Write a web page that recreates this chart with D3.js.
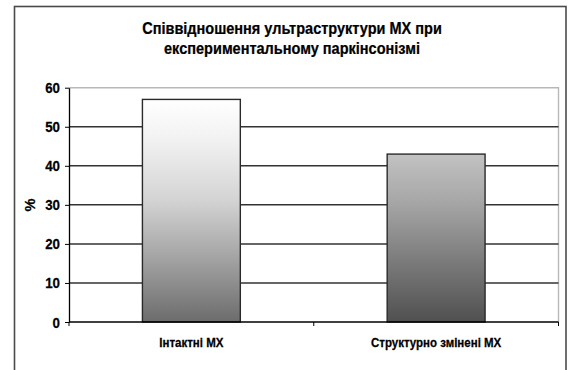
<!DOCTYPE html>
<html>
<head>
<meta charset="utf-8">
<script src="https://cdn.jsdelivr.net/npm/d3@7"></script>
<style>
  html, body { margin: 0; padding: 0; background: #fff; }
  svg { display: block; }
  text { font-family: "Liberation Sans", Arial, sans-serif; font-weight: bold; fill: #000; stroke: #000; stroke-width: 0.25px; }
</style>
</head>
<body>
<svg id="chart" width="571" height="370"></svg>
<script>
// Share of mitochondria by ultrastructure state, %
const categories = ["Інтактні МХ", "Структурно змінені МХ"];
const values = [57, 43];
const yTicks = [0, 10, 20, 30, 40, 50, 60];
const titleLines = ["Співвідношення ультраструктури МХ при", "експериментальному паркінсонізмі"];
const yLabel = "%";

const svg = d3.select("#chart");
const plot = { left: 69, top: 87.7, right: 558.5, bottom: 322 };

// condensed lettering: squeeze text horizontally around its anchor
function condensed(sel, x, y, sx) {
  sel.attr("transform", (d, i) => {
    const xx = typeof x === "function" ? x(d, i) : x;
    const yy = typeof y === "function" ? y(d, i) : y;
    return `translate(${xx},${yy}) scale(${sx},1)`;
  });
}

// outer chart frame (bottom edge runs past the page)
svg.append("rect")
  .attr("x", 14.5).attr("y", 6.5)
  .attr("width", 551.5).attr("height", 400)
  .attr("fill", "#fff").attr("stroke", "#4a4a4a").attr("stroke-width", 1.6);

const x = d3.scaleBand().domain(categories)
  .range([plot.left, plot.right]).paddingInner(0.6).paddingOuter(0.3);
const y = d3.scaleLinear().domain([0, 60]).range([plot.bottom, plot.top]);

// bar gradients, one per bar
const defs = svg.append("defs");
const gradStops = [
  [[0, "#ffffff"], [0.2, "#f0f0f0"], [0.45, "#d4d4d4"], [0.72, "#a2a2a2"], [1, "#6c6c6c"]],
  [[0, "#c2c2c2"], [0.27, "#a8a8a8"], [0.63, "#7c7c7c"], [1, "#505050"]]
];
gradStops.forEach((stops, i) => {
  const g = defs.append("linearGradient").attr("id", "barGrad" + i)
    .attr("x1", 0).attr("y1", 0).attr("x2", 0).attr("y2", 1);
  stops.forEach(s => g.append("stop").attr("offset", s[0]).attr("stop-color", s[1]));
});

// plot border (top and right) in light grey
svg.append("path")
  .attr("d", `M${plot.left},${y(60)}H${plot.right}V${plot.bottom}`)
  .attr("fill", "none").attr("stroke", "#b8b8b8").attr("stroke-width", 1.4);

// horizontal gridlines
svg.append("g").selectAll("line")
  .data(yTicks.filter(t => t > 0 && t < 60))
  .join("line")
  .attr("x1", plot.left).attr("x2", plot.right)
  .attr("y1", d => y(d)).attr("y2", d => y(d))
  .attr("stroke", "#333").attr("stroke-width", 1.5);

// bars
svg.append("g").selectAll("rect")
  .data(categories)
  .join("rect")
  .attr("x", d => x(d))
  .attr("y", (d, i) => y(values[i]))
  .attr("width", x.bandwidth())
  .attr("height", (d, i) => y(0) - y(values[i]))
  .attr("fill", (d, i) => `url(#barGrad${i})`)
  .attr("stroke", "#2a2a2a").attr("stroke-width", 1.4);

// y axis
const yAxis = svg.append("g")
  .attr("transform", `translate(${plot.left},0)`)
  .call(d3.axisLeft(y).tickValues(yTicks).tickSize(4).tickPadding(6).tickSizeOuter(0));
yAxis.select(".domain").attr("stroke", "#000").attr("stroke-width", 1.3);
yAxis.selectAll(".tick line").attr("stroke", "#000");
yAxis.selectAll(".tick text")
  .attr("font-size", 14)
  .attr("x", null).attr("dy", "0.36em")
  .call(condensed, -9, 0, 0.95);

// x axis with ticks at the category boundaries
const xAxisG = svg.append("g").attr("transform", `translate(0,${plot.bottom})`);
xAxisG.append("line")
  .attr("x1", plot.left).attr("x2", plot.right)
  .attr("stroke", "#000").attr("stroke-width", 1.5);
const bounds = [plot.left, ...categories.slice(1).map(c => x(c) - x.step() * x.paddingInner() / 2), plot.right];
xAxisG.selectAll(".bt").data(bounds).join("line")
  .attr("x1", d => d).attr("x2", d => d)
  .attr("y1", 0).attr("y2", 4)
  .attr("stroke", "#000").attr("stroke-width", 1);
xAxisG.selectAll(".cl").data(categories).join("text")
  .attr("text-anchor", "middle")
  .attr("font-size", 12.5)
  .call(condensed, d => x(d) + x.bandwidth() / 2, 25, 0.92)
  .text(d => d);

// y axis title
svg.append("text")
  .attr("transform", `translate(35,205) rotate(-90)`)
  .attr("text-anchor", "middle")
  .attr("font-size", 14.5)
  .text(yLabel);

// chart title
svg.append("g").selectAll("text").data(titleLines).join("text")
  .attr("text-anchor", "middle")
  .attr("font-size", 16.5)
  .call(condensed, 292, (d, i) => 34 + i * 19.5, 0.88)
  .text(d => d);
</script>
</body>
</html>
